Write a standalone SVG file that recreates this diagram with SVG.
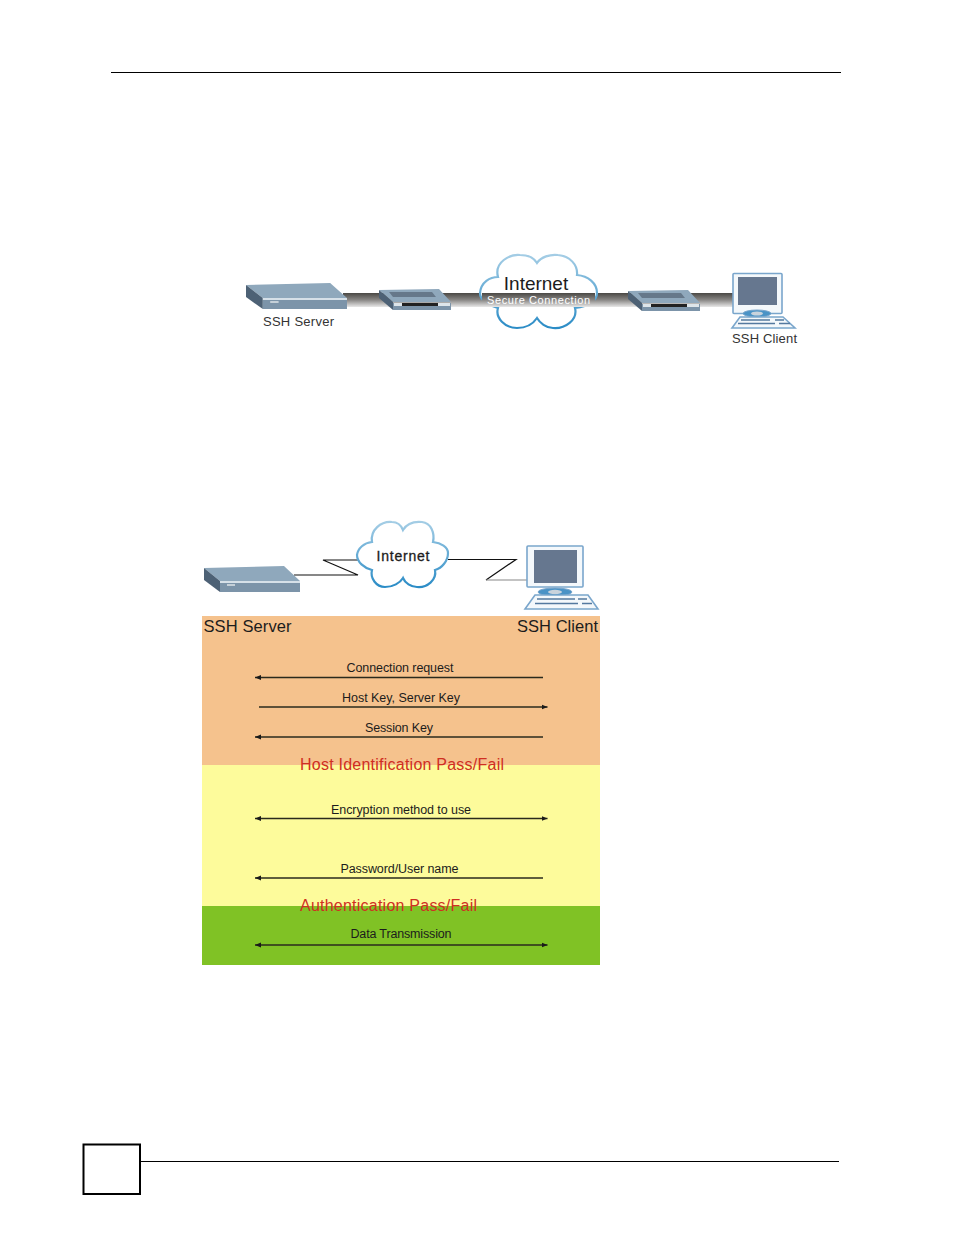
<svg xmlns="http://www.w3.org/2000/svg" width="954" height="1235" viewBox="0 0 954 1235">
<style>
text{font-family:"Liberation Sans",Arial,sans-serif;fill:#1c1c1c}
.lbl{font-size:12.5px;text-anchor:middle}
.red{font-size:16px;fill:#cf2f22}
.hdr{font-size:16.5px}
.cap{font-size:13px;fill:#333}
.msg{fill:none;stroke:#2a2a1c;stroke-width:1.3}
.wire{fill:none;stroke:#111;stroke-width:1.2}
.cloud{fill:#fff;stroke:url(#cloudEdge);stroke-width:2.2}
.top{fill:#8fa8bc}.front{fill:#7c94a9}.side{fill:#4d6175}.edge{fill:#d6e0e8}
.mon{fill:#f4f8fb;stroke:#7aa6cc;stroke-width:1.6}
.scr{fill:#66778f}
.stand{fill:#4a93c6;stroke:#7aa6cc;stroke-width:1}
.keys{stroke:#54799f;stroke-width:1.700;fill:none}
</style>
<defs>
<linearGradient id="bar" x1="0" y1="0" x2="0" y2="1"><stop offset="0" stop-color="#4a4844"/><stop offset="0.5" stop-color="#8a8886"/><stop offset="1" stop-color="#e8e8e8"/></linearGradient>
<linearGradient id="cloudEdge" x1="0" y1="0" x2="0" y2="1"><stop offset="0" stop-color="#a4cde5"/><stop offset="1" stop-color="#2b8cc6"/></linearGradient>
<marker id="ah" markerWidth="6" markerHeight="6" refX="6" refY="3" orient="auto-start-reverse" markerUnits="userSpaceOnUse"><path d="M0 0.500L6 3L0 5.500Z" fill="#1a1a1a"/></marker>
<g id="routerShape">
<path class="top" d="M379 290L439 289L451 302L393 302Z"/>
<path d="M389 292L432 292L436 297L393 297Z" fill="#66788a"/>
<path class="side" d="M379 290L393 302L393 310L379 298Z"/>
<path class="front" d="M393 303L451 303L451 310L393 310Z"/>
<path d="M402 303H438V306H402Z" fill="#222"/>
<path d="M394 303H402V306H394ZM438 303H450V306H438Z" fill="#dde5ea"/>
</g>
<g id="serverShape">
<path class="top" d="M204 568L284 566L300 581L220 581Z"/>
<path class="side" d="M204 568L220 581L220 592L204 580Z"/>
<path class="edge" d="M220 581H300V583H220Z"/>
<path class="front" d="M220 583H300V592H220Z"/>
<path d="M227 584H235V586H227Z" fill="#c5d0d8"/>
</g>
</defs>
<g id="page">
<path d="M111 72.500H841M141 1161.500H839" stroke="#000" stroke-width="1" fill="none"/>
<rect x="83.500" y="1144.500" width="56.500" height="49.500" fill="none" stroke="#000" stroke-width="2"/>
</g>
<g id="connectors-top">
<rect x="343" y="293" width="392" height="14" fill="url(#bar)"/>
</g>
<g id="internet-top">
<path class="cloud" d="M480 293C481 282 490 277 498 277C494 262 510 254 520 255C528 255 534 258 537 263C541 257 550 254 558 255C570 256 578 265 577 275C588 276 597 283 597 293C597 300 590 306 575 308C578 320 565 329 553 328C546 328 540 323 537 318C533 324 526 328 517 328C505 328 495 318 498 308C488 305 480 300 480 293Z"/>
<rect x="482" y="293" width="113" height="14" fill="url(#bar)"/>
<text x="536" y="290" font-size="19" text-anchor="middle">Internet</text>
<text x="487" y="304" font-size="11" textLength="103" style="fill:#fff">Secure Connection</text>
</g>
<g id="ssh-server-top">
<use href="#serverShape" transform="translate(246 283) scale(1.052 1) translate(-204 -566)"/>
<text class="cap" x="263" y="325.500" textLength="71">SSH Server</text>
</g>
<g id="router-1"><use href="#routerShape"/></g>
<g id="router-2"><use href="#routerShape" transform="translate(249 1)"/></g>
<g id="ssh-client-top">
<rect class="mon" x="733" y="273.500" width="49" height="40" rx="1"/>
<rect class="scr" x="738" y="277" width="39" height="28"/>
<ellipse cx="757" cy="313.500" rx="14" ry="3.500" class="stand"/>
<ellipse cx="757" cy="313.500" rx="6" ry="2" fill="#c9d3dc"/>
<path class="mon" d="M740 317H783L795 328H732Z"/>
<path class="keys" d="M741 320H770M738 323.500H775M775 320H784M779 323.500H790"/>
<text class="cap" x="732" y="343" textLength="65">SSH Client</text>
</g>
<g id="bands">
<rect x="202" y="616" width="398" height="149" fill="#f5c28d"/>
<rect x="202" y="765" width="398" height="141" fill="#fdfb9b"/>
<rect x="202" y="906" width="398" height="59" fill="#80c225"/>
</g>
<g id="connectors-bottom">
<path class="wire" d="M294 575H358L323 560H358M448 559.500H516L486 580"/>
<path class="wire" d="M486 580H527" style="stroke:#888"/>
<path class="msg" d="M543 677.500H255" marker-end="url(#ah)"/>
<path class="msg" d="M259 707H547.500" marker-end="url(#ah)"/>
<path class="msg" d="M543 737H255" marker-end="url(#ah)"/>
<path class="msg" d="M255 818.500H547.500" marker-start="url(#ah)" marker-end="url(#ah)"/>
<path class="msg" d="M543 878H255" marker-end="url(#ah)"/>
<path class="msg" d="M255 945H547.500" marker-start="url(#ah)" marker-end="url(#ah)"/>
</g>
<g id="internet-bottom">
<path class="cloud" d="M357 555C358 548 364 543 372 542C370 530 381 521 392 522C397 522 401 525 403 530C406 525 412 521 422 522C431 523 435 533 433 542C441 543 448 547 448 553C448 561 442 568 435 570C437 580 427 588 417 587C411 587 405 583 403 578C400 583 393 587 385 587C376 587 370 578 372 570C364 568 357 562 357 555Z"/>
<text x="403" y="561" font-size="14" text-anchor="middle" textLength="53" stroke="#1c1c1c" stroke-width="0.3">Internet</text>
</g>
<g id="ssh-server-bottom">
<use href="#serverShape"/>
<text class="hdr" x="203.500" y="632" textLength="88">SSH Server</text>
</g>
<g id="ssh-client-bottom">
<rect class="mon" x="527" y="546" width="56" height="41" rx="1"/>
<rect class="scr" x="534" y="550" width="43" height="33"/>
<ellipse cx="555" cy="592" rx="17" ry="4" class="stand"/>
<ellipse cx="555" cy="592" rx="7" ry="2.200" fill="#c9d3dc"/>
<path class="mon" d="M535 595H588L598 609H525Z"/>
<path class="keys" d="M537 599H575M535 603.500H578M578 599H587M582 603.500H592"/>
<text class="hdr" x="517" y="632" textLength="81">SSH Client</text>
</g>
<g id="labels">
<text class="lbl" x="400" y="672" textLength="107">Connection request</text>
<text class="lbl" x="401" y="702" textLength="118">Host Key, Server Key</text>
<text class="lbl" x="399" y="732" textLength="68">Session Key</text>
<text class="red" x="300" y="770" textLength="204">Host Identification Pass/Fail</text>
<text class="lbl" x="401" y="813.500" textLength="140">Encryption method to use</text>
<text class="lbl" x="399.500" y="873" textLength="118">Password/User name</text>
<text class="red" x="300" y="910.500" textLength="177">Authentication Pass/Fail</text>
<text class="lbl" x="401" y="938" textLength="101">Data Transmission</text>
</g>
</svg>
